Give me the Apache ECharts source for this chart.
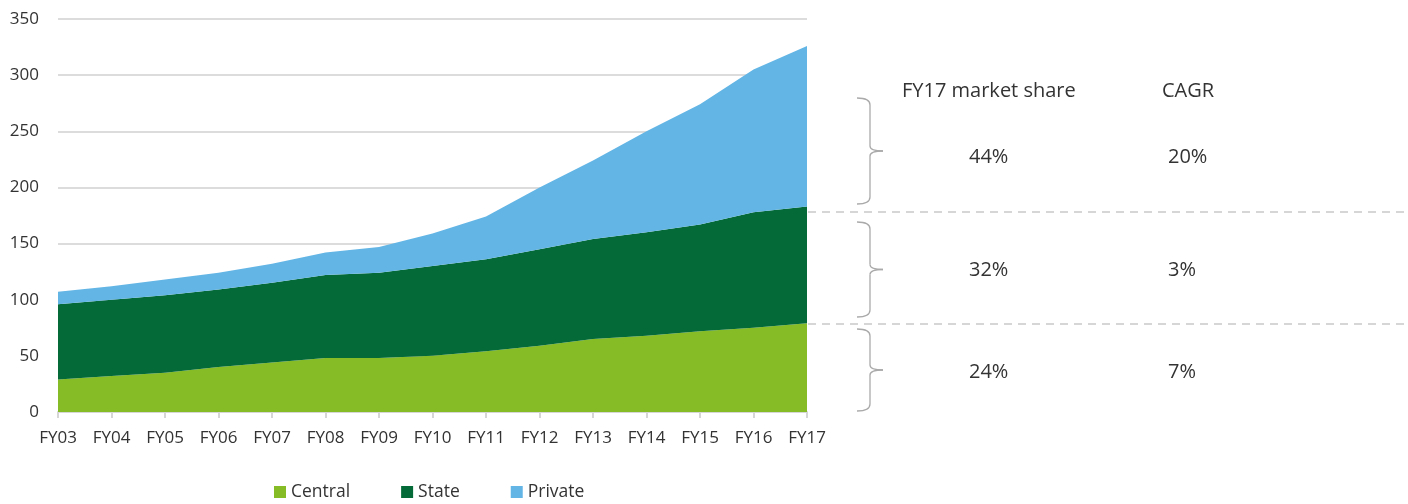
<!DOCTYPE html>
<html>
<head>
<meta charset="utf-8">
<script src="https://cdn.jsdelivr.net/npm/echarts@6/dist/echarts.min.js"></script>
<style>
  html, body { margin: 0; padding: 0; background: #fff; }
  #main { width: 1408px; height: 504px; }
</style>
</head>
<body>
<div id="main"></div>
<script>
const years = ['FY03', 'FY04', 'FY05', 'FY06', 'FY07', 'FY08', 'FY09', 'FY10', 'FY11', 'FY12', 'FY13', 'FY14', 'FY15', 'FY16', 'FY17']
const central = [29, 32, 35, 40, 44, 48, 48, 50, 54, 59, 65, 68, 72, 75, 79]
const state = [67, 68, 69, 69, 71, 74, 76, 80, 82, 86, 89, 92, 95, 103, 104]
const priv = [11, 12, 14, 15, 17, 20, 23, 29, 38, 55, 70, 90, 107, 127, 143]
const yTicks = [0, 50, 100, 150, 200, 250, 300, 350]

// right side table
const tableHeads = ['FY17 market share', 'CAGR']
const shareVals = ['44%', '32%', '24%']
const cagrVals = ['20%', '3%', '7%']

const FONT = '"Open Sans", "Noto Sans", sans-serif'
const TXT = '#333'

const chart = echarts.init(document.getElementById('main'), null, { renderer: 'canvas' })

function areaSeries (name, data, color) {
  return {
    name: name,
    type: 'line',
    stack: 'total',
    data: data,
    symbol: 'none',
    smooth: false,
    lineStyle: { width: 0 },
    itemStyle: { color: color },
    areaStyle: { color: color, opacity: 1 },
    emphasis: { disabled: true }
  }
}

// curly brace, opening on the left, tip pointing right
function brace (top, bottom) {
  const x0 = 857
  const x1 = 870
  const tip = 883
  const mid = (top + bottom) / 2
  const st = { stroke: '#aaa', lineWidth: 1.3, fill: null }
  const curve = (a, b, cx, cy, c, d) => ({ type: 'bezierCurve', shape: { x1: a, y1: b, cpx1: cx, cpy1: cy, x2: c, y2: d }, style: st })
  const seg = (a, b, c, d) => ({ type: 'line', shape: { x1: a, y1: b, x2: c, y2: d }, style: st })
  return {
    type: 'group',
    children: [
      curve(x0, top, x1, top, x1, top + 7),
      seg(x1, top + 7, x1, mid - 5),
      curve(x1, mid - 5, x1, mid, tip, mid),
      curve(tip, mid, x1, mid, x1, mid + 5),
      seg(x1, mid + 5, x1, bottom - 7),
      curve(x1, bottom - 7, x1, bottom, x0, bottom)
    ]
  }
}

function label (x, y, text) {
  return {
    type: 'text',
    x: x,
    y: y,
    style: {
      text: text,
      font: '20px ' + FONT,
      fill: TXT,
      verticalAlign: 'middle'
    }
  }
}

const rowsY = [157, 270, 372]
const graphics = [
  { type: 'line', shape: { x1: 808, y1: 212, x2: 1408, y2: 212 }, style: { stroke: '#d6d6d6', lineWidth: 2, lineDash: [8, 6] } },
  { type: 'line', shape: { x1: 808, y1: 324, x2: 1408, y2: 324 }, style: { stroke: '#d6d6d6', lineWidth: 2, lineDash: [8, 6] } },
  brace(98, 204),
  brace(222, 317),
  brace(329, 411),
  label(902, 91, tableHeads[0]),
  label(1162, 91, tableHeads[1])
]
rowsY.forEach((y, i) => {
  graphics.push(label(969, y, shareVals[i]))
  graphics.push(label(1168, y, cagrVals[i]))
})

chart.setOption({
  animation: false,
  textStyle: { fontFamily: FONT },
  grid: {
    left: 58,
    right: 601,
    top: 19,
    bottom: 92
  },
  legend: {
    data: ['Central', 'State', 'Private'],
    left: 274,
    top: 483,
    padding: 0,
    icon: 'rect',
    itemWidth: 12,
    itemHeight: 12,
    itemGap: 51,
    textStyle: { fontSize: 17.5, color: TXT }
  },
  xAxis: {
    type: 'category',
    boundaryGap: false,
    data: years,
    axisLine: { lineStyle: { color: '#d6d6d6', width: 2 } },
    axisTick: { show: true, length: 6, lineStyle: { color: '#d6d6d6', width: 2 } },
    axisLabel: { fontSize: 17, color: TXT, margin: 18, interval: 0 }
  },
  yAxis: {
    type: 'value',
    min: yTicks[0],
    max: yTicks[yTicks.length - 1],
    interval: 50,
    axisLine: { show: false },
    axisTick: { show: false },
    axisLabel: { fontSize: 17, color: TXT, margin: 19 },
    splitLine: { lineStyle: { color: '#dcdcdc', width: 2 } }
  },
  series: [
    areaSeries('Central', central, '#86bc25'),
    areaSeries('State', state, '#046a38'),
    areaSeries('Private', priv, '#62b5e5')
  ],
  graphic: graphics
})
</script>
</body>
</html>
